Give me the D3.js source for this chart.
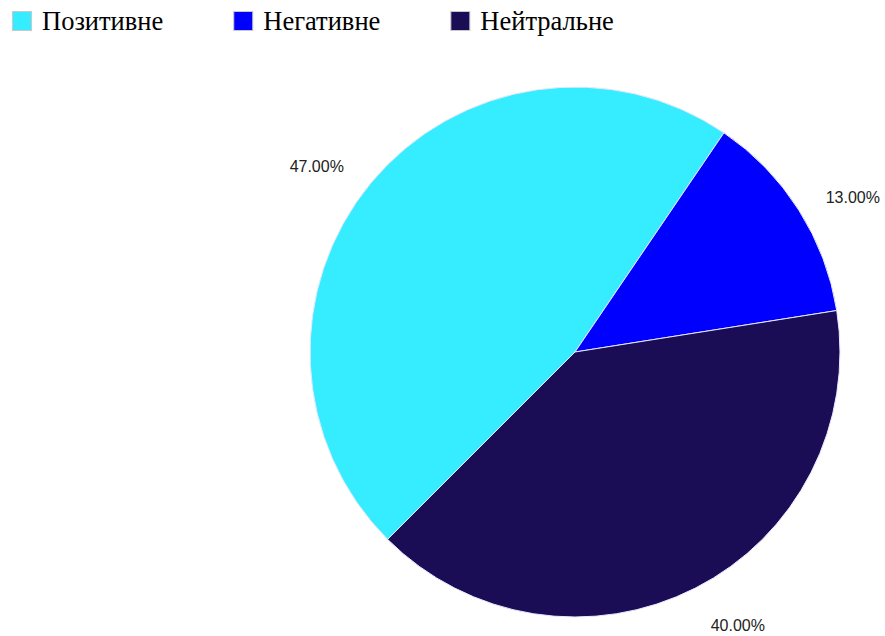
<!DOCTYPE html>
<html lang = 'uk'>
    <head>
        <meta charset = 'UTF-8'>
        <title>Pie</title>
        <script src="https://d3js.org/d3.v7.min.js"></script>
        <style>
            body {
                margin: 0;
                background: white;
            }
            .legend text {
                font-family: 'Liberation Serif', 'Times New Roman', serif;
                font-size: 26.5px;
                fill: black;
            }
            .labels text {
                font-family: 'Liberation Sans', Arial, sans-serif;
                font-size: 16px;
                fill: #222;
            }
        </style>
    </head>
    <body>
        <svg width = '885' height = '636'></svg>

        <script>
            const categories = ['Позитивне', 'Негативне', 'Нейтральне'];
            const values = [47, 13, 40];
            const colors = ['#36edff', '#0000ff', '#1b0c56'];
            // label nudges (degrees)
            const labelShift = [-3.9, 3.3, -3.8];

            let svg = d3.select('svg');
            const cx = 575, cy = 352, radius = 265;

            const color = d3.scaleOrdinal().domain(categories).range(colors);

            //legend
            let legend = svg.append('g').attr('class', 'legend');
            let lx = 12;
            categories.forEach(function (c) {
                let item = legend.append('g').attr('transform', 'translate(' + lx + ',11)');
                item.append('rect')
                    .attr('x', 0.5).attr('y', 0.5)
                    .attr('width', 19).attr('height', 19)
                    .attr('fill', color(c))
                    .attr('stroke', '#c8c8c8')
                    .attr('stroke-width', 1);
                let t = item.append('text')
                    .attr('x', 30).attr('y', 18.5)
                    .text(c);
                lx += 30 + t.node().getComputedTextLength() + 70;
            });

            //pie
            const pie = d3.pie()
                .sort(null)
                .value(function (d) { return d.value; })
                .startAngle(-135 * Math.PI / 180)
                .endAngle(225 * Math.PI / 180);

            const data = categories.map(function (c, i) {
                return {name: c, value: values[i], shift: labelShift[i]};
            });
            const arcs = pie(data);
            const total = d3.sum(values);

            const arc = d3.arc().innerRadius(0).outerRadius(radius);

            let g = svg.append('g').attr('transform', 'translate(' + cx + ',' + cy + ')');

            g.selectAll('path')
                .data(arcs)
                .enter()
                .append('path')
                .attr('d', arc)
                .attr('fill', function (d) { return color(d.data.name); })
                .attr('stroke', '#e8e8ff')
                .attr('stroke-width', 1)
                .attr('stroke-linejoin', 'round');

            const labelR = radius * 1.2;
            g.append('g').attr('class', 'labels')
                .selectAll('text')
                .data(arcs)
                .enter()
                .append('text')
                .attr('text-anchor', 'middle')
                .attr('dominant-baseline', 'central')
                .attr('x', function (d) {
                    let a = (d.startAngle + d.endAngle) / 2 + d.data.shift * Math.PI / 180;
                    return labelR * Math.sin(a);
                })
                .attr('y', function (d) {
                    let a = (d.startAngle + d.endAngle) / 2 + d.data.shift * Math.PI / 180;
                    return -labelR * Math.cos(a);
                })
                .text(function (d) { return (d.value / total * 100).toFixed(2) + '%'; });
        </script>
    </body>
</html>
